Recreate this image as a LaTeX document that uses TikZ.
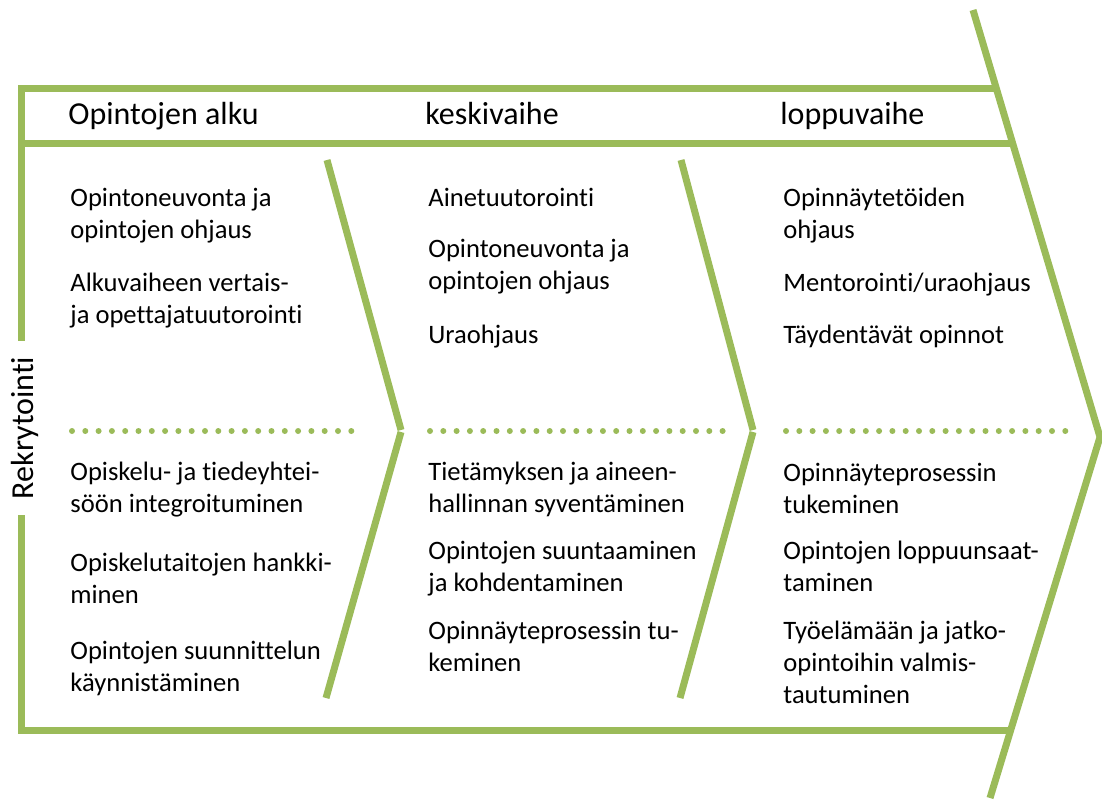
\documentclass[tikz,border=0pt]{standalone}
\usepackage{fontspec}
\setmainfont{Carlito}[Ligatures=NoCommon]
\definecolor{leaf}{HTML}{9BBB59}
\tikzset{
  frame/.style={draw=leaf, line width=3.5pt},
  dots/.style={draw=leaf, line width=3pt, line cap=round,
    dash pattern=on 0pt off 6.65pt},
  head/.style={anchor=base west, inner sep=0pt,
    font=\fontsize{16}{19}\selectfont},
  % base = baseline of the last line
  item/.style={anchor=base west, inner sep=0pt, align=left,
    font=\fontsize{13.3}{16}\selectfont}
}
\begin{document}
\begin{tikzpicture}[x=0.5pt,y=-0.5pt]
  \useasboundingbox (0,0) rectangle (1102,800);

  % Outer frame and big arrow
  \coordinate (T) at (973,10);
  \coordinate (P) at (1100,437);
  \coordinate (B) at (990,798);
  \draw[frame] (997,88) -- (21,88) -- (21,730) -- (1009,730);
  \draw[frame] (21,143) -- (1012,143);
  \draw[frame] (T) -- (P) -- (B);

  % Inner chevrons
  \draw[frame] (327,160) -- (401,430);
  \draw[frame] (401,432) -- (326,698);
  \draw[frame] (681,160) -- (753,430);
  \draw[frame] (753,432) -- (680,698);

  % Dotted separators
  \draw[dots] (72,431) -- (354,431);
  \draw[dots] (430,431) -- (730,431);
  \draw[dots] (786,431) -- (1068,431);

  \node[rotate=90, fill=white, inner xsep=8pt, inner ysep=1pt,
    font=\fontsize{16}{19}\selectfont] (rek) at (25,428) {Rekrytointi};

  % Phase headings
  \node[head] (alku) at (68,124) {Opintojen alku};
  \node[head] (keski) at (425,124) {keskivaihe};
  \node[head] (loppu) at (780,124) {loppuvaihe};

  % Opintojen alku
  \node[item] (a1) at (70,238) {Opintoneuvonta ja\\opintojen ohjaus};
  \node[item] (a2) at (70,323) {Alkuvaiheen vertais-\\ja opettajatuutorointi};
  \node[item] (a3) at (70,512) {Opiskelu- ja tiedeyhtei-\\söön integroituminen};
  \node[item] (a4) at (70,603) {Opiskelutaitojen hankki-\\minen};
  \node[item] (a5) at (70,691) {Opintojen suunnittelun\\käynnistäminen};

  % keskivaihe
  \node[item] (k1) at (428,206) {Ainetuutorointi};
  \node[item] (k2) at (428,289) {Opintoneuvonta ja\\opintojen ohjaus};
  \node[item] (k3) at (428,343) {Uraohjaus};
  \node[item] (k4) at (428,512) {Tietämyksen ja aineen-\\hallinnan syventäminen};
  \node[item] (k5) at (428,591) {Opintojen suuntaaminen\\ja kohdentaminen};
  \node[item] (k6) at (428,671) {Opinnäyteprosessin tu-\\keminen};

  % loppuvaihe
  \node[item] (l1) at (783,238) {Opinnäytetöiden\\ohjaus};
  \node[item] (l2) at (783,291) {Mentorointi/uraohjaus};
  \node[item] (l3) at (783,343) {Täydentävät opinnot};
  \node[item] (l4) at (783,513) {Opinnäyteprosessin\\tukeminen};
  \node[item] (l5) at (783,591) {Opintojen loppuunsaat-\\taminen};
  \node[item] (l6) at (783,703) {Työelämään ja jatko-\\opintoihin valmis-\\tautuminen};
\end{tikzpicture}
\end{document}
